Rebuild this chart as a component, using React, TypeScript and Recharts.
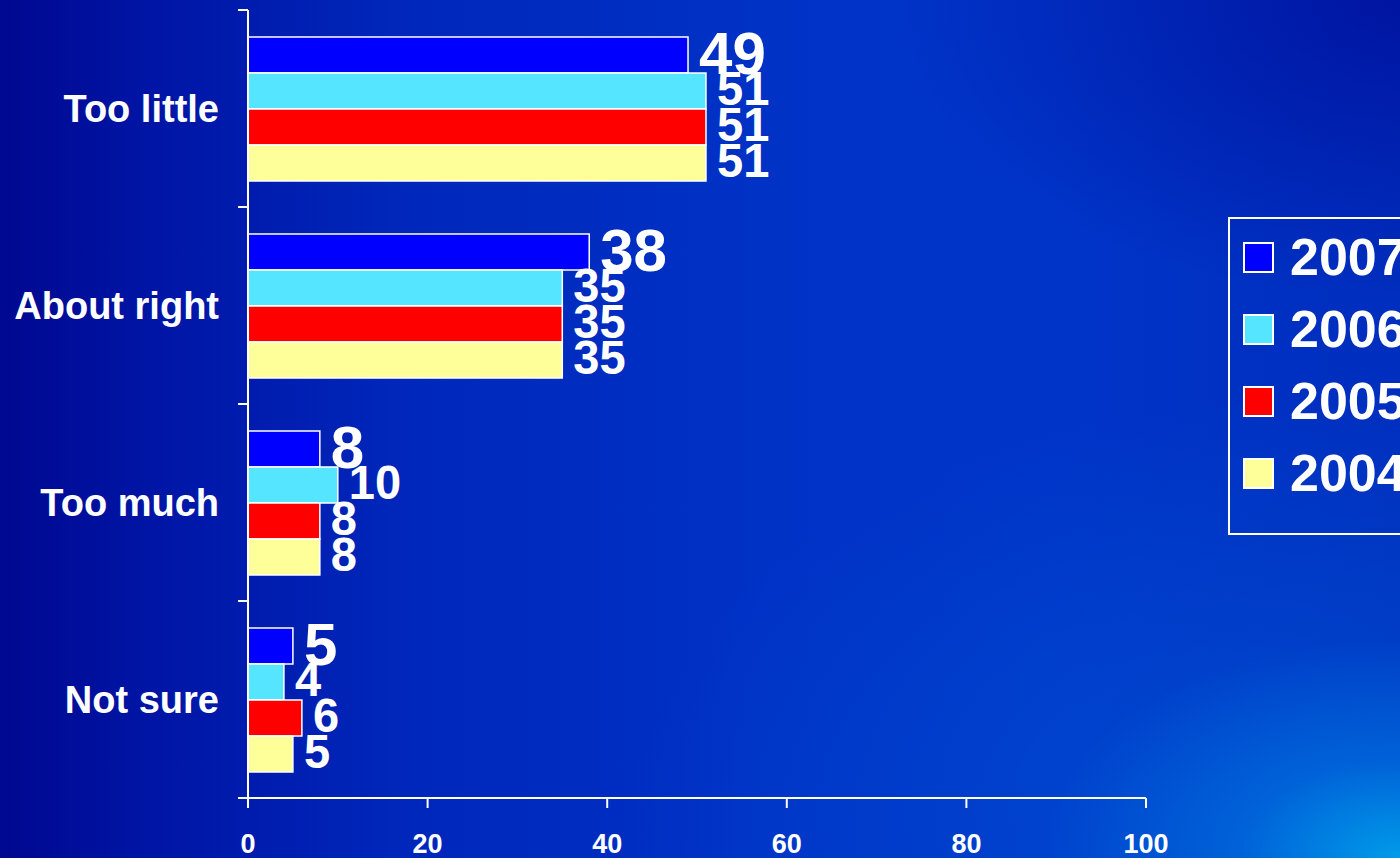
import React from 'react';
import { BarChart, Bar, XAxis, YAxis, LabelList, Legend } from 'recharts';

const categories = ['Too little', 'About right', 'Too much', 'Not sure'];
const years = ['2007', '2006', '2005', '2004'];
const values2007 = [49, 38, 8, 5];
const values2006 = [51, 35, 10, 4];
const values2005 = [51, 35, 8, 6];
const values2004 = [51, 35, 8, 5];
const xTicks = [0, 20, 40, 60, 80, 100];

const colors = ['#0000ff', '#55e5ff', '#ff0000', '#ffff99'];
const FONT = '"Liberation Sans", Arial, Helvetica, sans-serif';
const TICK_SIZE = 10;
const TICK_MARGIN = 19;

const data = categories.map((name, i) => ({
  name,
  y2007: values2007[i],
  y2006: values2006[i],
  y2005: values2005[i],
  y2004: values2004[i],
}));

// category label at band centre, tick marks at band edges
const CategoryTick = (props: any) => {
  const { x, y, payload, index } = props;
  const half = payload?.offset ?? 98.5;
  const axisX = x + TICK_MARGIN + TICK_SIZE;
  return (
    <g>
      <line x1={axisX - TICK_SIZE} x2={axisX} y1={y - half} y2={y - half} stroke="#fff" strokeWidth={2} />
      {index === categories.length - 1 && (
        <line x1={axisX - TICK_SIZE} x2={axisX} y1={y + half} y2={y + half} stroke="#fff" strokeWidth={2} />
      )}
      <text
        x={x}
        y={y}
        dy="0.36em"
        textAnchor="end"
        fill="#fff"
        fontSize={38}
        fontWeight="bold"
        fontFamily={FONT}
      >
        {payload.value}
      </text>
    </g>
  );
};

const makeLabel = (fontSize: number, sx: number) => (props: any) => {
  const { x, y, width, height, value } = props;
  const tx = x + width + 11;
  const ty = y + height / 2 - 3;
  return (
    <text
      transform={`translate(${tx},${ty}) scale(${sx},1)`}
      dy="0.36em"
      fill="#fff"
      fontSize={fontSize}
      fontWeight="bold"
      fontFamily={FONT}
    >
      {value}
    </text>
  );
};

const renderLegend = () => (
  <div
    style={{
      border: '2px solid #fff',
      width: 200,
      height: 318,
      boxSizing: 'border-box',
      paddingTop: 23,
      paddingLeft: 13,
    }}
  >
    {years.map((yr, i) => (
      <div key={yr} style={{ display: 'flex', alignItems: 'center', height: 31, marginBottom: 41 }}>
        <div
          style={{
            width: 31,
            height: 31,
            boxSizing: 'border-box',
            background: colors[i],
            border: '2px solid #fff',
            marginRight: 16,
          }}
        />
        <span
          style={{
            color: '#fff',
            fontSize: 52,
            fontWeight: 'bold',
            fontFamily: FONT,
            lineHeight: '31px',
            whiteSpace: 'nowrap',
          }}
        >
          {yr}
        </span>
      </div>
    ))}
  </div>
);

const App: React.FC = () => {
  const keys = ['y2007', 'y2006', 'y2005', 'y2004'];
  return (
    <div
      style={{
        position: 'absolute',
        left: 0,
        top: 0,
        width: 1400,
        height: 858,
        overflow: 'hidden',
        background:
          'radial-gradient(ellipse 360px 220px at 100% 100%, rgba(0,160,235,0.95) 0%, rgba(0,120,225,0.55) 45%, rgba(0,80,210,0) 100%),' +
          'radial-gradient(ellipse 700px 420px at 95% 95%, rgba(0,90,215,0.6) 0%, rgba(0,90,215,0) 100%),' +
          'radial-gradient(ellipse 500px 300px at 100% 0%, rgba(0,10,150,0.7) 0%, rgba(0,10,150,0) 100%),' +
          'linear-gradient(90deg, #000890 0%, #0014a4 10%, #0026ba 28%, #0032c6 55%, #0034c8 75%, #002ebe 100%)',
      }}
    >
      <BarChart
        width={1400}
        height={858}
        data={data}
        layout="vertical"
        barGap={0}
        barSize={36}
        margin={{ top: 10, right: 254, bottom: 0, left: 0 }}
      >
        <XAxis
          type="number"
          domain={[0, 100]}
          ticks={xTicks}
          height={60}
          tickSize={TICK_SIZE}
          tickMargin={26}
          stroke="#fff"
          strokeWidth={2}
          tick={{ fill: '#fff', fontSize: 27, fontWeight: 'bold', fontFamily: FONT }}
        />
        <YAxis
          type="category"
          dataKey="name"
          width={248}
          tickSize={TICK_SIZE}
          tickMargin={TICK_MARGIN}
          tickLine={false}
          stroke="#fff"
          strokeWidth={2}
          tick={<CategoryTick />}
        />
        <Legend
          layout="horizontal"
          verticalAlign="middle"
          align="center"
          content={renderLegend}
          wrapperStyle={{ left: 1228, top: 217, width: 200 }}
        />
        {keys.map((k, i) => (
          <Bar
            key={k}
            dataKey={k}
            name={years[i]}
            fill={colors[i]}
            stroke="#fff"
            strokeWidth={1.5}
            isAnimationActive={false}
          >
            <LabelList dataKey={k} content={i === 0 ? makeLabel(60, 1) : makeLabel(48, 0.98)} />
          </Bar>
        ))}
      </BarChart>
    </div>
  );
};

export default App;
